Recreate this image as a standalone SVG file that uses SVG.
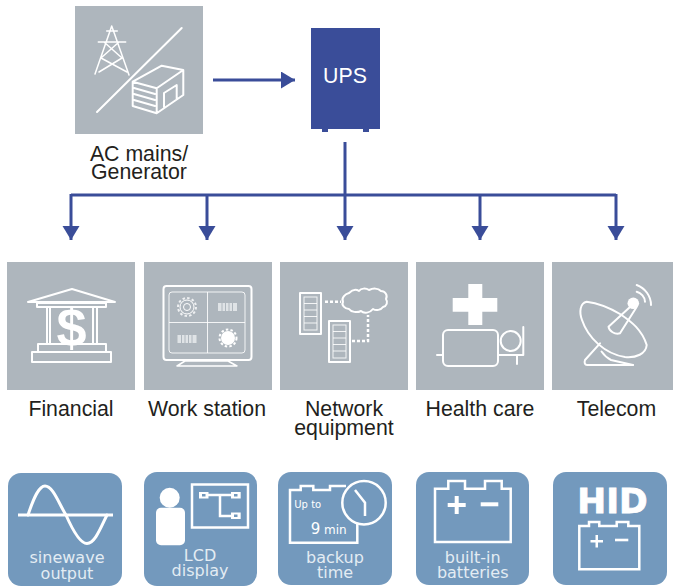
<svg xmlns="http://www.w3.org/2000/svg" width="673" height="586" viewBox="0 0 673 586">
<defs>
<style>
.box{fill:#aeb6bd}
.rbox{fill:#7399bd}
.ln{fill:none;stroke:#fff;stroke-width:2;stroke-linejoin:round;stroke-linecap:round}
.th{fill:none;stroke:#fff;stroke-width:1;opacity:.85}
.dot{fill:none;stroke:#fff;stroke-width:2.5;stroke-dasharray:3 2}
.w{fill:#fff}
.lab{font-family:"Liberation Sans",Arial,sans-serif;font-size:21.300px;fill:#231f20;text-anchor:middle}
.cap{font-family:"DejaVu Sans",Verdana,sans-serif;font-size:16px;fill:#e3ecf3;text-anchor:middle}
.conn{fill:none;stroke:#3a4d99;stroke-width:3}
.bl{fill:none;stroke:#fff;stroke-width:2.500;stroke-linejoin:miter}
</style>
<marker id="ah" markerUnits="userSpaceOnUse" markerWidth="16" markerHeight="18" refX="14" refY="8.500" orient="auto"><path d="M0 0L14 8.500L0 17Z" fill="#3a4d99"/></marker>
</defs>
<rect width="673" height="586" fill="#fff"/>

<g id="connectors">
<path class="conn" d="M213 80H295" marker-end="url(#ah)"/>
<path class="conn" d="M345 142V195"/>
<path class="conn" d="M71 195H616"/>
<path class="conn" d="M71 194V240" marker-end="url(#ah)"/>
<path class="conn" d="M207 194V240" marker-end="url(#ah)"/>
<path class="conn" d="M345 194V240" marker-end="url(#ah)"/>
<path class="conn" d="M480 194V240" marker-end="url(#ah)"/>
<path class="conn" d="M616 194V240" marker-end="url(#ah)"/>
</g>

<g id="ac-mains">
<rect class="box" x="75" y="6" width="128" height="128"/>
<path class="ln" d="M97 112L181.700 28"/>
<path class="ln" style="stroke-width:1.500" d="M95 74L110 31L111.700 26L113.500 31L129 75M98.300 42H125.700M106.700 31H117.300M104 42L122 58L99 72M119 42L101 58L127 72"/>
<path class="ln" d="M132.700 81.700L161.700 65.700L183.300 70L156.700 88.300ZM132.700 81.700V106L156.700 113.300V88.300M183.300 70V95L156.700 113.300M164 107V93L176.700 85V99M134 88L155 94M134 94L155 100M134 100L155 106"/>
<text class="lab" x="139" y="161">AC mains/</text>
<text class="lab" x="139" y="179">Generator</text>
</g>

<g id="ups">
<rect x="311" y="28" width="69" height="101" fill="#3a4d99"/>
<rect x="322" y="129" width="6" height="3" fill="#3a4d99"/>
<rect x="363" y="129" width="6" height="3" fill="#3a4d99"/>
<text x="345" y="83" font-family="Liberation Sans,Arial,sans-serif" font-size="21.300" fill="#fff" text-anchor="middle">UPS</text>
</g>

<g id="financial">
<rect class="box" x="7" y="262" width="128" height="128"/>
<path class="ln" d="M28 302L72 289L115 302Z"/>
<rect class="ln" x="37" y="303" width="69" height="4"/>
<path class="ln" d="M47 307V344M50 307V344M93 307V344M97 307V344"/>
<rect class="ln" x="38" y="344" width="68" height="8"/>
<rect class="ln" x="32" y="352" width="79" height="10"/>
<text x="71.500" y="346" font-family="Liberation Sans,Arial,sans-serif" font-size="54" font-weight="700" fill="#fff" text-anchor="middle">$</text>
<text class="lab" x="71" y="416">Financial</text>
</g>

<g id="work-station">
<rect class="box" x="144" y="262" width="128" height="128"/>
<rect class="ln" x="163.500" y="286" width="88" height="74" rx="3"/>
<rect class="th" x="169" y="292" width="76" height="61" rx="3"/>
<path class="th" d="M207.500 292V353M169 322.500H245"/>
<path class="ln" style="stroke-width:1.500" d="M177 366L185 361H228L237 366Z"/>
<circle cx="187" cy="307" r="7" fill="none" stroke="#fff" stroke-width="1"/>
<circle cx="187" cy="307" r="9" fill="none" stroke="#fff" stroke-width="2" stroke-dasharray="2.500 2.200" opacity=".8"/>
<circle cx="187" cy="307" r="3.500" fill="none" stroke="#fff" stroke-width="1"/>
<rect x="218" y="303" width="19" height="8" fill="#dfe3e6"/>
<path d="M222 303V311M225.500 303V311M229 303V311M232.500 303V311" stroke="#aeb6bd" stroke-width="1"/>
<rect x="177.500" y="335" width="19" height="8" fill="#dfe3e6"/>
<path d="M181.500 335V343M185 335V343M188.500 335V343M192 335V343" stroke="#aeb6bd" stroke-width="1"/>
<circle cx="228" cy="338" r="7" fill="#fff"/>
<circle cx="228" cy="338" r="8.500" fill="none" stroke="#fff" stroke-width="2" stroke-dasharray="2.500 2.200"/>
<text class="lab" x="207" y="416">Work station</text>
</g>

<g id="network">
<rect class="box" x="280" y="262" width="128" height="128"/>
<rect class="ln" x="300" y="293" width="21" height="41"/>
<rect class="th" x="304" y="297" width="13" height="33"/>
<path class="th" d="M304 303.500H317M304 310H317M304 316.500H317M304 323H317"/>
<rect class="ln" x="329" y="321" width="21" height="41"/>
<rect class="th" x="333" y="325" width="13" height="33"/>
<path class="th" d="M333 331.500H346M333 338H346M333 344.500H346M333 351H346"/>
<path class="dot" d="M325 301.700H341"/>
<path class="dot" d="M352 341H368V315"/>
<path class="ln" d="M349 293C352 290 356 289 359 291C361 288 366 288 369 290C373 288 378 288 381 291C385 291 388 295 386 299C388 302 387 306 383 307C381 310 376 311 373 309C370 313 364 314 361 311C357 313 351 312 349 309C345 309 341 305 343 302C341 298 345 294 349 293Z"/>
<text class="lab" x="344" y="416">Network</text>
<text class="lab" x="344" y="435">equipment</text>
</g>

<g id="health">
<rect class="box" x="416" y="262" width="128" height="128"/>
<path class="w" d="M468.300 284H482.300V298H497.300V311.700H482.300V325H468.300V311.700H452.700V298H468.300Z"/>
<rect class="ln" x="443" y="330" width="55" height="36" rx="5"/>
<circle class="ln" cx="510.700" cy="341" r="10"/>
<path class="ln" d="M437 355H443M498 355H523.300V327M517 355V364"/>
<text class="lab" x="480" y="416">Health care</text>
</g>

<g id="telecom">
<rect class="box" x="552" y="262" width="121" height="128"/>
<path class="ln" d="M586.700 301.700C580 303 579 312 582 320C588 338 605 354 625 357C636 358 646 354 646.700 345C642 330 632 322 620 314C610 308 597 303 586.700 301.700Z"/>
<circle class="w" cx="633.300" cy="303.300" r="5.800"/>
<path class="ln" d="M630 307L608.500 326.700C609 331 615 335 620 333.300L636 308"/>
<path class="ln" d="M600 343.300L585 360C584 363 585 365 587 365L633 365"/>
<path class="ln" d="M601.500 351.500C604 355 607 358 611 360L633 365"/>
<path class="ln" d="M636.700 285C645 288 651 296 651 305"/>
<path class="ln" d="M636.700 291.700C641 293 645 297 645 301.700"/>
<text class="lab" x="616.500" y="416">Telecom</text>
</g>

<g id="sinewave">
<rect class="rbox" x="8" y="473" width="114" height="113" rx="13"/>
<path class="w" d="M18 513.500H113V516.500H18Z"/>
<path class="ln" style="stroke-width:3" d="M28 515C34 497 39 486 45 486C53 486 59 504 66 515C73 531 80 543.500 87 543.500C95 543.500 101 527 107 515"/>
<text class="cap" x="67" y="562.700">sinewave</text>
<text class="cap" x="67" y="578.700">output</text>
</g>

<g id="lcd">
<rect class="rbox" x="144" y="472" width="113" height="114" rx="13"/>
<circle class="w" cx="169.700" cy="497.700" r="10"/>
<rect class="w" x="156" y="507.700" width="29" height="37.600" rx="5"/>
<rect class="bl" x="192" y="484.500" width="56" height="43"/>
<rect class="w" x="199" y="492" width="9.500" height="6.500"/>
<rect class="w" x="231" y="492" width="9.700" height="6.500"/>
<rect class="w" x="231" y="512.500" width="9.700" height="6.500"/>
<path class="bl" d="M208 495H231M220 495V516H231"/>
<rect fill="#7399bd" x="202" y="494" width="3.500" height="2.500"/>
<rect fill="#7399bd" x="234" y="494" width="3.500" height="2.500"/>
<rect fill="#7399bd" x="234" y="514.500" width="3.500" height="2.500"/>
<text class="cap" x="200" y="561">LCD</text>
<text class="cap" x="200" y="576">display</text>
</g>

<g id="backup">
<rect class="rbox" x="278" y="472" width="114" height="113" rx="13"/>
<path class="bl" d="M357.300 524V542.700H290V490H300.700V486H313.300V490H330V486H346"/>
<circle class="bl" cx="364" cy="502.700" r="21.700"/>
<path class="bl" d="M355 490L365 502.700V516"/>
<text x="294.300" y="507.700" font-family="DejaVu Sans,Verdana,sans-serif" font-size="10" fill="#fff">Up to</text>
<text x="310.700" y="533.700" font-family="DejaVu Sans,Verdana,sans-serif" font-size="15" fill="#fff">9</text>
<text x="324" y="533.700" font-family="DejaVu Sans,Verdana,sans-serif" font-size="12" fill="#fff">min</text>
<text class="cap" x="335" y="562.700">backup</text>
<text class="cap" x="335" y="577.700">time</text>
</g>

<g id="batteries">
<rect class="rbox" x="416" y="472" width="113" height="113" rx="13"/>
<path class="bl" d="M435 488.700H448.300V481H465V488.700H485V481H501.700V488.700H510.700V542H435Z"/>
<path class="w" d="M454.700 496H458.700V503H465.700V507H458.700V514H454.700V507H447.700V503H454.700Z"/>
<rect class="w" x="480.700" y="502.300" width="17.600" height="4"/>
<text class="cap" x="472.700" y="563.300">built-in</text>
<text class="cap" x="472.700" y="578.300">batteries</text>
</g>

<g id="hid">
<rect class="rbox" x="553" y="472" width="114" height="113" rx="13"/>
<text x="612.500" y="512.700" font-family="DejaVu Sans,Verdana,sans-serif" font-size="34.500" font-weight="700" fill="#fff" stroke="#fff" stroke-width=".8" text-anchor="middle">HID</text>
<path class="bl" d="M579.300 526H589V522H599.300V526H616.700V522H628.300V526H639.300V569.300H579.300Z"/>
<path class="w" d="M595.500 535H598V540H603V542.500H598V547.500H595.500V542.500H590.500V540H595.500Z"/>
<rect class="w" x="615" y="538.700" width="13.300" height="2.600"/>
</g>
</svg>
